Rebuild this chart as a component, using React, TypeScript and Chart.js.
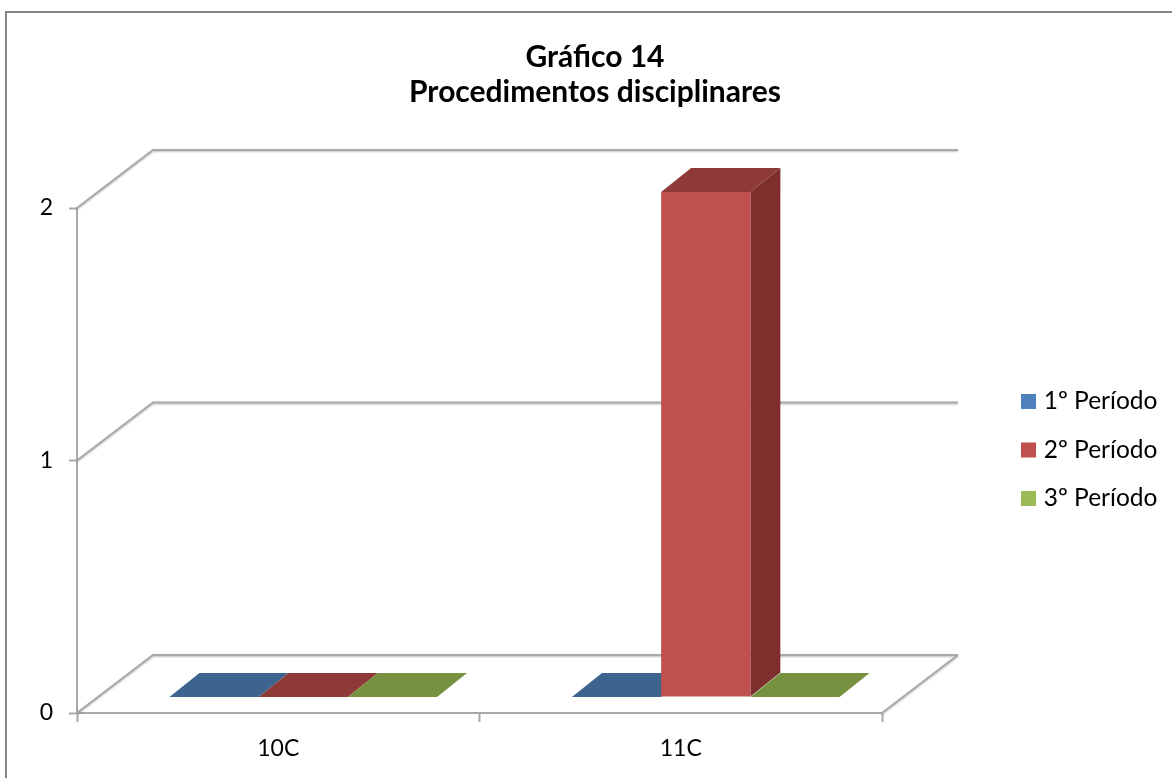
import React, { useEffect, useRef } from "react";
import { Chart, registerables } from "chart.js";

Chart.register(...registerables);

const titleLines = ["Gráfico 14", "Procedimentos disciplinares"];
const categories = ["10C", "11C"];
const period1 = [0, 0];
const period2 = [0, 2];
const period3 = [0, 0];
const seriesNames = ["1º Período", "2º Período", "3º Período"];
const frontColors = ["#4F81BD", "#C0504D", "#9BBB59"];
const topColors = ["#3D648F", "#8E3A38", "#76913F"];
const sideColors = ["#335477", "#7C2F2D", "#637A35"];
const FONT = "Lato, 'Open Sans', sans-serif";
const LINE = "#A9A9A9";

const wallDX = 76, wallDY = -58;
const barDX = 25, barDY = -16, barDepthX = 30, barDepthY = -24;

const poly = (ctx: CanvasRenderingContext2D, pts: number[][], fill: string) => {
  ctx.beginPath();
  pts.forEach(([x, y], i) => (i ? ctx.lineTo(x, y) : ctx.moveTo(x, y)));
  ctx.closePath();
  ctx.fillStyle = fill;
  ctx.fill();
};

const chrome3d = {
  id: "chrome3d",
  afterLayout(chart: any) {
    const lg = chart.legend;
    lg.left = 1001.5; lg.right = 1172; lg.width = 170.5;
    lg.top = 365.25; lg.bottom = 600; lg.height = 234.75;
    const t = chart.titleBlock;
    t.left = 100; t.right = 1090; t.width = 990;
  },
  beforeDatasetsDraw(chart: any) {
    const { ctx, scales: { x, y } } = chart;
    ctx.save();
    // frame of the chart object
    ctx.strokeStyle = "#868686";
    ctx.lineWidth = 2;
    ctx.beginPath();
    ctx.moveTo(6, 778); ctx.lineTo(6, 12); ctx.lineTo(1172, 12);
    ctx.stroke();
    // walls and floor
    ctx.strokeStyle = LINE;
    ctx.lineWidth = 2;
    ctx.shadowColor = "rgba(0,0,0,0.25)";
    ctx.shadowBlur = 2;
    ctx.shadowOffsetY = 1;
    const L = x.left, R = x.right;
    const zero = y.getPixelForValue(0);
    ctx.beginPath();
    for (const t of y.ticks) {
      const py = y.getPixelForValue(t.value);
      ctx.moveTo(L, py); ctx.lineTo(L + wallDX, py + wallDY); ctx.lineTo(R + wallDX, py + wallDY);
    }
    ctx.moveTo(R + wallDX, zero + wallDY); ctx.lineTo(R, zero);
    ctx.stroke();
    ctx.restore();

    // depth faces of the bars, then library bars shifted onto the floor
    ctx.save();
    ctx.translate(barDX, barDY);
    chart.data.datasets.forEach((_: any, i: number) => {
      chart.getDatasetMeta(i).data.forEach((b: any) => {
        const l = b.x - b.width / 2, r = b.x + b.width / 2;
        poly(ctx, [[l, b.y], [r, b.y], [r + barDepthX, b.y + barDepthY], [l + barDepthX, b.y + barDepthY]], topColors[i]);
        if (b.base - b.y > 0.5) {
          poly(ctx, [[r, b.y], [r + barDepthX, b.y + barDepthY], [r + barDepthX, b.base + barDepthY], [r, b.base]], sideColors[i]);
        }
      });
    });
  },
  afterDatasetsDraw(chart: any) {
    chart.ctx.restore();
  },
};

export default function App() {
  const ref = useRef<HTMLCanvasElement>(null);
  useEffect(() => {
    document.body.style.margin = "0";
    document.body.style.background = "#fff";
    const chart = new Chart(ref.current!, {
      type: "bar",
      plugins: [chrome3d],
      data: {
        labels: categories,
        datasets: [period1, period2, period3].map((data, i) => ({
          label: seriesNames[i],
          data,
          backgroundColor: frontColors[i],
          borderWidth: 0,
          barPercentage: 1,
          categoryPercentage: 0.665,
          clip: false as any,
        })),
      },
      options: {
        animation: false,
        responsive: false,
        layout: { padding: { left: 0, right: 290, top: 0, bottom: 0 } },
        plugins: {
          tooltip: { enabled: false },
          title: {
            display: true,
            text: titleLines,
            color: "#000",
            font: { family: FONT, size: 30, weight: "bold", lineHeight: 1.167 },
            padding: { top: 40, bottom: 98 },
          },
          legend: {
            position: "chartArea",
            align: "start",
            labels: {
              boxWidth: 6,
              boxHeight: 6,
              padding: 24,
              color: "#000",
              font: { family: FONT, size: 24.5 },
              generateLabels: (c: any) =>
                c.data.datasets.map((d: any, i: number) => ({
                  text: d.label,
                  fillStyle: d.backgroundColor,
                  strokeStyle: d.backgroundColor,
                  lineWidth: 9,
                  fontColor: "#000",
                  datasetIndex: i,
                  hidden: false,
                })),
            },
          },
        },
        scales: {
          x: {
            afterFit: (s: any) => { s.height = 65; },
            grid: { drawOnChartArea: false, tickLength: 9, tickColor: LINE, tickWidth: 2 },
            border: { color: LINE, width: 2 },
            ticks: { color: "#000", font: { family: FONT, size: 23 }, padding: 13, maxRotation: 0 },
          },
          y: {
            min: 0,
            max: 2,
            afterFit: (s: any) => { s.width = 77; },
            grid: { drawOnChartArea: false, tickLength: 8, tickColor: LINE, tickWidth: 2 },
            border: { color: LINE, width: 2 },
            ticks: { stepSize: 1, color: "#000", font: { family: FONT, size: 23 }, padding: 16 },
          },
        },
      } as any,
    });
    return () => chart.destroy();
  }, []);
  return <canvas ref={ref} width={1172} height={778} style={{ display: "block" }} />;
}
